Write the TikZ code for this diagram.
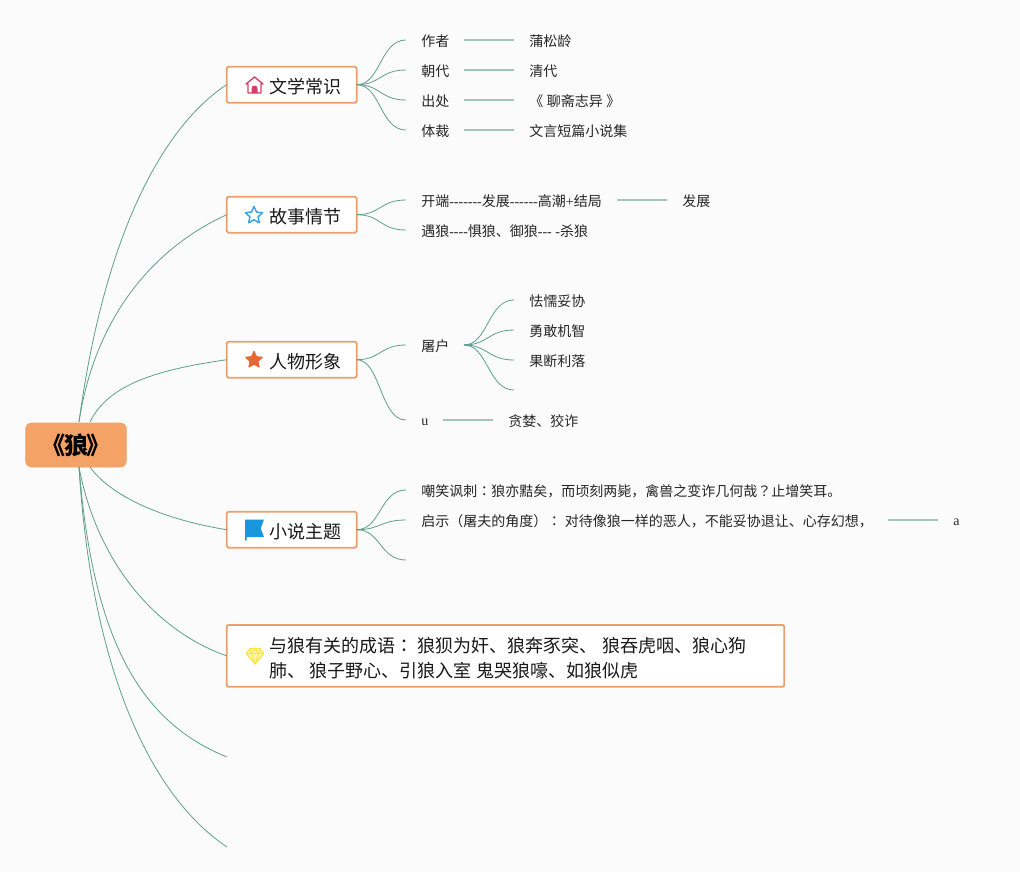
\documentclass[tikz,border=0pt]{standalone}
\usepackage{fontspec}
\setmainfont{Liberation Serif}
\newfontfamily\cjk{Noto Sans CJK SC}
\newfontfamily\cjktc{Noto Sans CJK TC}
\newfontfamily\ltn{Liberation Serif}
\usetikzlibrary{shapes.geometric,calc}
\definecolor{bgc}{HTML}{FBFBFB}
\definecolor{orangec}{HTML}{F5A266}
\definecolor{borderc}{HTML}{EDA06F}
\definecolor{linec}{HTML}{5F9F8C}
\definecolor{sublinec}{HTML}{A3C8BA}
\definecolor{pinkc}{HTML}{D64068}
\definecolor{bluec}{HTML}{36A5E1}
\definecolor{redorc}{HTML}{E56734}
\definecolor{flagc}{HTML}{1796DC}
\definecolor{yelc}{HTML}{FCE63C}
\definecolor{yelpale}{HTML}{FDF6B0}
\newcommand{\ts}{{\ltn\ }}
\newcommand{\tc}[1]{{\cjktc #1}}
\newcommand{\lt}[1]{{\ltn #1}}
\tikzset{
  x=0.75pt,y=-0.75pt,
  rootbox/.style={fill=orangec,draw=orangec,rounded corners=4.5pt,minimum width=75.5pt,minimum height=33pt,inner sep=0pt,outer sep=0pt,font=\cjk\fontsize{18}{20}\selectfont\bfseries,line width=0.5pt},
  mainbox/.style={fill=white,draw=borderc,line width=1.4pt,rounded corners=1.2pt,inner sep=0pt,outer sep=0pt,anchor=north west},
  smallbox/.style={mainbox,minimum width=97.5pt,minimum height=27pt},
  maintext/.style={anchor=west,inner sep=0pt,yshift=-0.75pt,font=\cjk\fontsize{13.5}{16}\selectfont,text=black!90},
  subtext/.style={anchor=west,inner sep=0pt,yshift=-0.3pt,font=\cjk\fontsize{10.5}{13}\selectfont,text=black!85},
  latintext/.style={anchor=west,inner sep=0pt,yshift=-1pt,font=\ltn\fontsize{10.5}{13}\selectfont,text=black!85},
  conn/.style={draw=linec,line width=0.6pt},
  subconn/.style={draw=sublinec,line width=1pt},
  bgrect/.style={fill=bgc,draw=none},
}
\newcommand{\sbr}[2]{\draw[conn] (#1) .. controls ($(#1)+(24,0)$) and ($(#2)+(-26,0)$) .. (#2);}
\begin{document}
\begin{tikzpicture}
\path[bgrect,use as bounding box] (0,0) rectangle (1020,872);
% root
\node[rootbox] (root) at (76,445) {\raisebox{-1.8pt}{\tc{《}\kern-1.2pt 狼\kern-1.2pt \tc{》}}};
% main boxes
\node[smallbox] (m1) at (226.7,66.7) {};
\node[smallbox] (m2) at (226.7,196.7) {};
\node[smallbox] (m3) at (226.7,341.7) {};
\node[smallbox] (m4) at (226.7,511.7) {};
\node[mainbox,minimum width=418.2pt,minimum height=46.3pt] (m5) at (226.7,625) {};
\node[maintext] (t1) at (269,86) {文学常识};
\node[maintext] (t2) at (269,216) {故事情节};
\node[maintext] (t3) at (269,361) {人物形象};
\node[maintext] (t4) at (269,531) {小说主题};
\node[maintext] (t5a) at (269,645) {与狼有关的成语\tc{：}\ts 狼狈为奸、狼奔豕突、\ts 狼吞虎咽、狼心狗};
\node[maintext] (t5b) at (269,670) {肺、\ts 狼子野心、引狼入室\ts 鬼哭狼嚎、如狼似虎};
% icons
\begin{scope}[shift={(254.5,85)}]
\draw[draw=pinkc,line width=1pt,line join=round] (-8.5,-1) -- (0,-8) -- (8.5,-1) -- (6.5,-1) -- (6.5,8) -- (-6.5,8) -- (-6.5,-1) -- cycle;
\fill[pinkc] (-3,8) -- (-3,3.5) arc[start angle=180,end angle=360,radius=3] -- (3,8) -- cycle;
\end{scope}
\node[star,star points=5,star point ratio=2.1,draw=bluec,line width=1.1pt,line join=round,fill=none,minimum size=13.5pt,inner sep=0pt] (ic2) at (254,215.5) {};
\node[star,star points=5,star point ratio=2.1,draw=redorc,fill=redorc,line width=0.8pt,line join=round,minimum size=13pt,inner sep=0pt] (ic3) at (254,360) {};
\fill[flagc] (245,519.5) -- (264,519.5) -- (260.7,528.5) -- (264,537) -- (246.5,537) -- (246.5,540.5) -- (245,540.5) -- cycle;
\begin{scope}[shift={(255,656)},line join=round]
\filldraw[fill=yelpale,draw=yelc,line width=0.9pt] (-5,-7.5) -- (5,-7.5) -- (8.7,-2.5) -- (0,8) -- (-8.7,-2.5) -- cycle;
\draw[yelc,line width=0.7pt] (-8.7,-2.5) -- (8.7,-2.5) (-3.5,-2.5) -- (0,8) -- (3.5,-2.5) (-5,-7.5) -- (-3.5,-2.5) -- (0,-7.5) -- (3.5,-2.5) -- (5,-7.5);
\end{scope}
% sub text
\node[subtext] (a1) at (421,41) {作者};
\node[subtext] (a2) at (421,71) {朝代};
\node[subtext] (a3) at (421,101) {出处};
\node[subtext] (a4) at (421,131) {体裁};
\node[subtext] (b1) at (529,41) {蒲松龄};
\node[subtext] (b2) at (529,71) {清代};
\node[subtext] (b3) at (529,101) {\tc{《}\ts 聊斋志异\ts \tc{》}};
\node[subtext] (b4) at (529,131) {文言短篇小说集};
\node[subtext] (c1) at (421,201) {开端\lt{-------}发展\lt{------}高潮\lt{+}结局};
\node[subtext] (c1b) at (682,201) {发展};
\node[subtext] (c2) at (421,231) {遇狼\lt{----}惧狼、御狼\lt{--- -}杀狼};
\node[subtext] (d1) at (421,346) {屠户};
\node[latintext] (d2) at (421,421) {u};
\node[subtext] (d2b) at (508,421) {贪婪、狡诈};
\node[subtext] (e1) at (529,301) {怯懦妥协};
\node[subtext] (e2) at (529,331) {勇敢机智};
\node[subtext] (e3) at (529,361) {果断利落};
\node[subtext] (f1) at (421,491) {嘲笑讽刺\tc{：}狼亦黠矣，而顷刻两毙，禽兽之变诈几何哉\tc{？}止增笑耳。};
\node[subtext] (f2) at (421,521) {启示（屠夫的角度）\tc{：}\ts 对待像狼一样的恶人，不能妥协退让、心存幻想，};
\node[latintext] (f2b) at (953,521) {a};
% free ends
\coordinate (rt) at (79,422);
\coordinate (rt2) at (90,422);
\coordinate (rb) at (79,467);
\coordinate (rb2) at (90,467);
\coordinate (x6) at (227,757);
\coordinate (x7) at (227,847);
\foreach \n/\y in {p1/40,p2/70,p3/100,p4/130,p5/200,p6/230,p7/345,p8/420,p9/490,p10/520,p11/560} {\coordinate (\n) at (406,\y);}
\coordinate (d1e) at (464,345);
\foreach \n/\y in {q1/300,q2/330,q3/360,q4/390} {\coordinate (\n) at (514,\y);}
% root connectors
\draw[conn] (rt) .. controls (105,230) and (165,125) .. (m1.west);
\draw[conn] (rt) .. controls (96,310) and (160,245) .. (m2.west);
\draw[conn] (rt2) .. controls (108,385) and (155,370) .. (m3.west);
\draw[conn] (rb2) .. controls (110,495) and (160,519) .. (m4.west);
\draw[conn] (rb) .. controls (95,553) and (148,628) .. (m5.west);
\draw[conn] (rb) .. controls (93,640) and (140,722) .. (x6);
\draw[conn] (rb) .. controls (90,650) and (142,790) .. (x7);
% branch connectors
\foreach \n in {p1,p2,p3,p4} {\sbr{m1.east}{\n}}
\foreach \n in {p5,p6} {\sbr{m2.east}{\n}}
\foreach \n in {p7,p8} {\sbr{m3.east}{\n}}
\foreach \n in {p9,p10,p11} {\sbr{m4.east}{\n}}
\foreach \n in {q1,q2,q3,q4} {\sbr{d1e}{\n}}
% leaf connectors
\foreach \n/\y in {l1/40,l2/70,l3/100,l4/130} {\draw[subconn] (464,\y) -- (514,\y);}
\draw[subconn] (617,200) -- (667,200);
\draw[subconn] (443,420) -- (493,420);
\draw[subconn] (888,520) -- (938,520);
\end{tikzpicture}
\end{document}
